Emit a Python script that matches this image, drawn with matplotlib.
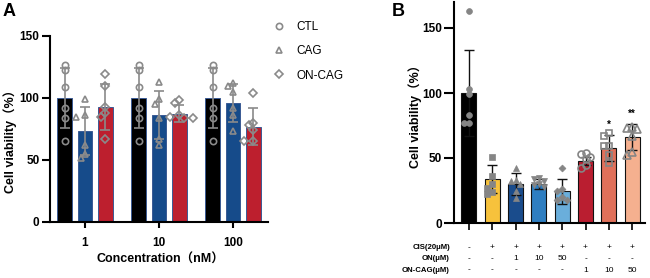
import numpy as np
import matplotlib
matplotlib.use("Agg")
import matplotlib.pyplot as plt
from matplotlib.lines import Line2D
import matplotlib.transforms as mtransforms

plt.rcParams['font.family'] = ['Liberation Sans', 'Noto Sans CJK SC', 'DejaVu Sans']

# ---------------- Panel A data ----------------
conc_labels = ["1", "10", "100"]
groups_a = ["CTL", "CAG", "ON-CAG"]
ctl_pts = [[122.5, 127, 108.5, 92, 84, 65],
           [122.5, 127, 108.5, 92, 84, 65],
           [122.5, 127, 108.5, 92, 84, 65]]
cag_pts = [[99, 86, 85, 62, 52, 55],
           [113, 99, 95, 84, 62, 67],
           [110, 112, 105, 92, 86, 73]]
oncag_pts = [[119, 110, 93, 88, 85, 67],
             [96, 98, 85, 84, 84, 86],
             [104, 80, 78, 74, 65, 65]]
ctl_mean = [100, 100, 100]
ctl_sd = [24, 24, 24]
cag_mean = [73.5, 86.5, 96]
cag_sd = [19.5, 19.5, 15]
oncag_mean = [93, 87.5, 77]
oncag_sd = [18.5, 6.5, 15]

# ---------------- Panel B data ----------------
b_means = [100, 34, 30, 30, 24.5, 48, 58, 66]
b_sd = [33, 11, 8.5, 3.8, 9.5, 3, 10, 10]
b_pts = [[163, 103, 99, 83, 77, 77],
         [51, 36, 30, 27, 24, 22],
         [42, 33, 32, 30, 25, 19],
         [35, 34, 32, 30, 29, 28],
         [42, 26, 25, 20, 18, 18],
         [54, 53, 51, 49, 45, 42],
         [67, 69, 59, 59, 52, 46],
         [73, 74, 72, 67, 52, 55]]
b_sig = ["", "", "", "", "", "", "*", "**"]
row_cis = ["-", "+", "+", "+", "+", "+", "+", "+"]
row_on = ["-", "-", "1", "10", "50", "-", "-", "-"]
row_oncag = ["-", "-", "-", "-", "-", "1", "10", "50"]
row_names = ["CIS(20μM)", "ON(μM)", "ON-CAG(μM)"]

W, H = 650, 278
fig = plt.figure(figsize=(W / 100, H / 100), dpi=100)


def swarm(values, px_x, px_y, diam, step):
    """Return x offsets (data units) so markers don't overlap."""
    placed = []
    offs = [0.0] * len(values)
    order = sorted(range(len(values)), key=lambda i: -values[i])
    for i in order:
        y = values[i] * px_y
        for k in [0, -1, 1, -2, 2, -3, 3]:
            x = k * step
            ok = all((x - px) ** 2 + (y - py) ** 2 >= diam ** 2 for px, py in placed)
            if ok:
                break
        placed.append((x, y))
        offs[i] = x / px_x
    return offs


# ---------------- Panel A ----------------
axA = fig.add_axes([50 / W, 1 - 222 / H, 218 / W, 186 / H])
axA.set_xlim(-0.473, 2.473)
axA.set_ylim(0, 150)
px_x_a = 74.0
px_y_a = 186 / 150
bw = 0.19
off = 0.277
cols_a = ["#000000", "#164b8a", "#bd1f2e"]
markers_a = ["o", "^", "D"]
msize_a = [4.5, 4.8, 3.6]
gray = "#8a8a8a"
means_a = [ctl_mean, cag_mean, oncag_mean]
sds_a = [ctl_sd, cag_sd, oncag_sd]
pts_a = [ctl_pts, cag_pts, oncag_pts]
x0 = np.arange(len(conc_labels))
for g in range(3):
    xs = x0 + (g - 1) * off
    axA.bar(xs, means_a[g], width=bw, color=cols_a[g], edgecolor="#3a5a94", linewidth=0.7, zorder=2)
    axA.errorbar(xs, means_a[g], yerr=sds_a[g], fmt="none", ecolor=gray, elinewidth=1.2,
                 capsize=3.5, capthick=1.2, zorder=3)
    for c in range(len(conc_labels)):
        v = pts_a[g][c]
        o = swarm(v, px_x_a, px_y_a, 5.0, 4.5)
        axA.plot(xs[c] + np.array(o), v, linestyle="none", marker=markers_a[g], ms=msize_a[g],
                 mfc="none", mec=gray, mew=1.2, zorder=4, clip_on=False)

for s in ["top", "right"]:
    axA.spines[s].set_visible(False)
for s in ["left", "bottom"]:
    axA.spines[s].set_linewidth(1.5)
axA.set_yticks([0, 50, 100, 150])
axA.set_xticks(x0)
axA.set_xticklabels(conc_labels)
axA.tick_params(axis="y", length=6, width=1.5, pad=1.5, labelsize=8.5)
axA.tick_params(axis="x", length=4, width=1.5, pad=7, labelsize=8.5)
for t in axA.get_xticklabels() + axA.get_yticklabels():
    t.set_fontweight("bold")
fig.text(10 / W, 1 - 138 / H, "Cell viability（%）", rotation=90, ha="center", va="center",
         fontsize=9, fontweight="bold")
fig.text(160 / W, 1 - 260 / H, "Concentration（nM）", ha="center", va="center",
         fontsize=9, fontweight="bold")
fig.text(3 / W, 1 - 11 / H, "A", ha="left", va="center", fontsize=13, fontweight="bold")

# legend
handles = [Line2D([], [], linestyle="none", marker=markers_a[g], ms=msize_a[g], mfc="none",
                  mec=gray, mew=1.2) for g in range(3)]
fig.legend(handles, groups_a, loc="upper left", bbox_to_anchor=(267 / W, 1 - 16 / H),
           frameon=False, fontsize=8.5, handlelength=1.2, handletextpad=0.9, labelspacing=1.05,
           borderaxespad=0)

# ---------------- Panel B ----------------
axB = fig.add_axes([454 / W, 1 - 223 / H, 191 / W, 221 / H])
axB.set_xlim(-0.64, 7.55)
axB.set_ylim(0, 170)
px_x_b = 23.3
px_y_b = 221 / 170
cols_b = ["#000000", "#f7c23c", "#1a4c8c", "#2e7ec1", "#6aaedb", "#ba1e30", "#e0705a", "#f5b08f"]
mk_b = ["o", "s", "^", "v", "D", "o", "s", "^"]
ms_b = [4.2, 4.2, 4.5, 4.5, 3.5, 5.0, 5.0, 5.2]
filled_b = [True, True, True, True, True, False, False, False]
xb = np.arange(len(b_means))
axB.bar(xb, b_means, width=0.64, color=cols_b, edgecolor="#111111", linewidth=0.8, zorder=2)
axB.errorbar(xb, b_means, yerr=b_sd, fmt="none", ecolor="#111111", elinewidth=1.0,
             capsize=3.5, capthick=1.0, zorder=3)
gray_b = "#858585"
for i in range(len(b_means)):
    v = b_pts[i]
    o = swarm(v, px_x_b, px_y_b, 4.8, 4.8)
    axB.plot(xb[i] + np.array(o), v, linestyle="none", marker=mk_b[i], ms=ms_b[i],
             mfc=gray_b if filled_b[i] else "none", mec=gray_b, mew=1.2 if not filled_b[i] else 0.5,
             zorder=4, clip_on=False)
    if b_sig[i]:
        axB.text(xb[i], b_means[i] + b_sd[i] + 4, b_sig[i], ha="center", va="bottom",
                 fontsize=7, fontweight="bold")

for s in ["top", "right"]:
    axB.spines[s].set_visible(False)
for s in ["left", "bottom"]:
    axB.spines[s].set_linewidth(1.5)
axB.set_yticks([0, 50, 100, 150])
axB.set_xticks(xb)
axB.set_xticklabels([])
axB.tick_params(axis="y", length=7, width=1.5, pad=1.5, labelsize=8.5)
axB.tick_params(axis="x", length=5, width=1.2)
for t in axB.get_yticklabels():
    t.set_fontweight("bold")
fig.text(415 / W, 1 - 113 / H, "Cell viability（%）", rotation=90, ha="center", va="center",
         fontsize=9, fontweight="bold")
fig.text(392 / W, 1 - 11 / H, "B", ha="left", va="center", fontsize=13, fontweight="bold")

# table under panel B
trans = mtransforms.blended_transform_factory(axB.transData, fig.transFigure)
row_y = [1 - 247.5 / H, 1 - 258.5 / H, 1 - 270 / H]
rows = [row_cis, row_on, row_oncag]
for r in range(3):
    fig.text(450 / W, row_y[r], row_names[r], ha="right", va="center", fontsize=5.6,
             fontweight="bold")
    for i, val in enumerate(rows[r]):
        axB.text(xb[i], row_y[r], val, transform=trans, ha="center", va="center",
                 fontsize=6, clip_on=False)

fig.savefig("out.png", dpi=100)
